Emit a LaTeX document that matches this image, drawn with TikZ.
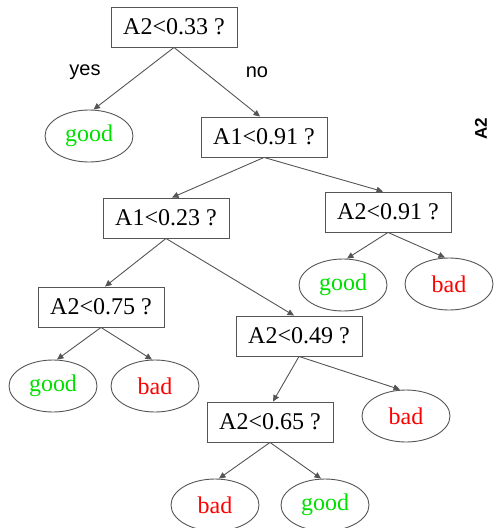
\documentclass[tikz,border=0pt]{standalone}
\usepackage{fontspec}
\setmainfont{Liberation Serif}
\newfontfamily\labfont{Liberation Sans}
\usetikzlibrary{arrows.meta,shapes.geometric}
\definecolor{edgegray}{HTML}{555555}
\definecolor{goodgreen}{HTML}{00E000}
\begin{document}
\begin{tikzpicture}[x=1pt,y=-1pt,
  testbox/.style={draw=edgegray,line width=0.9pt,rectangle,minimum width=126pt,minimum height=40pt,inner sep=0pt,font=\fontsize{24}{26}\selectfont},
  leaf/.style={draw=edgegray,line width=0.9pt,ellipse,minimum width=88pt,minimum height=52pt,inner sep=0pt,font=\fontsize{24}{26}\selectfont},
  goodleaf/.style={leaf,text=goodgreen},
  badleaf/.style={leaf,text=red},
  edge/.style={draw=edgegray,line width=0.9pt,-{Triangle[length=6.5pt,width=6pt]}},
  elabel/.style={font=\labfont\fontsize{20}{22}\selectfont}]
\useasboundingbox (0,0) rectangle (494,528);
\node[testbox] (r) at (174,27) {A2<0.33 ?};
\node[goodleaf] (g1) at (89,136) {good};
\node[testbox] (n1) at (264,137) {A1<0.91 ?};
\node[testbox] (n2) at (166,218) {A1<0.23 ?};
\node[testbox] (n3) at (388,212) {A2<0.91 ?};
\node[goodleaf] (g2) at (343,285) {good};
\node[badleaf] (b1) at (449,284) {bad};
\node[testbox] (n4) at (101,307) {A2<0.75 ?};
\node[testbox] (n5) at (299,336) {A2<0.49 ?};
\node[goodleaf] (g3) at (53,386) {good};
\node[badleaf] (b2) at (155,386) {bad};
\node[badleaf] (b3) at (406,416) {bad};
\node[testbox] (n6) at (270,422) {A2<0.65 ?};
\node[badleaf] (b4) at (215,505) {bad};
\node[goodleaf] (g4) at (325,505) {good};
\node[elabel] (yes) at (85,72) {yes};
\node[elabel] (no) at (257,72) {no};
\node[font=\labfont\bfseries\fontsize{17}{19}\selectfont,rotate=90] (ax) at (481,129) {A2};
\draw[edge] (r.south) -- ([xshift=4.5pt]g1.north);
\draw[edge] (r.south) -- ([xshift=-4pt]n1.north);
\draw[edge] (n1.south) -- ([xshift=6pt]n2.north);
\draw[edge] (n1.south) -- ([xshift=-5pt]n3.north);
\draw[edge] (n3.south) -- ([xshift=4pt]g2.north);
\draw[edge] (n3.south) -- ([xshift=-4pt]b1.north);
\draw[edge] (n2.south) -- ([xshift=4pt]n4.north);
\draw[edge] (n2.south) -- ([xshift=-5pt]n5.north);
\draw[edge] (n4.south) -- ([xshift=4pt]g3.north);
\draw[edge] (n4.south) -- ([xshift=-3pt]b2.north);
\draw[edge] (n5.south) -- ([xshift=3pt]n6.north);
\draw[edge] (n5.south) -- ([xshift=-6pt]b3.north);
\draw[edge] (n6.south) -- ([xshift=4pt]b4.north);
\draw[edge] (n6.south) -- ([xshift=-4pt]g4.north);
\end{tikzpicture}
\end{document}
